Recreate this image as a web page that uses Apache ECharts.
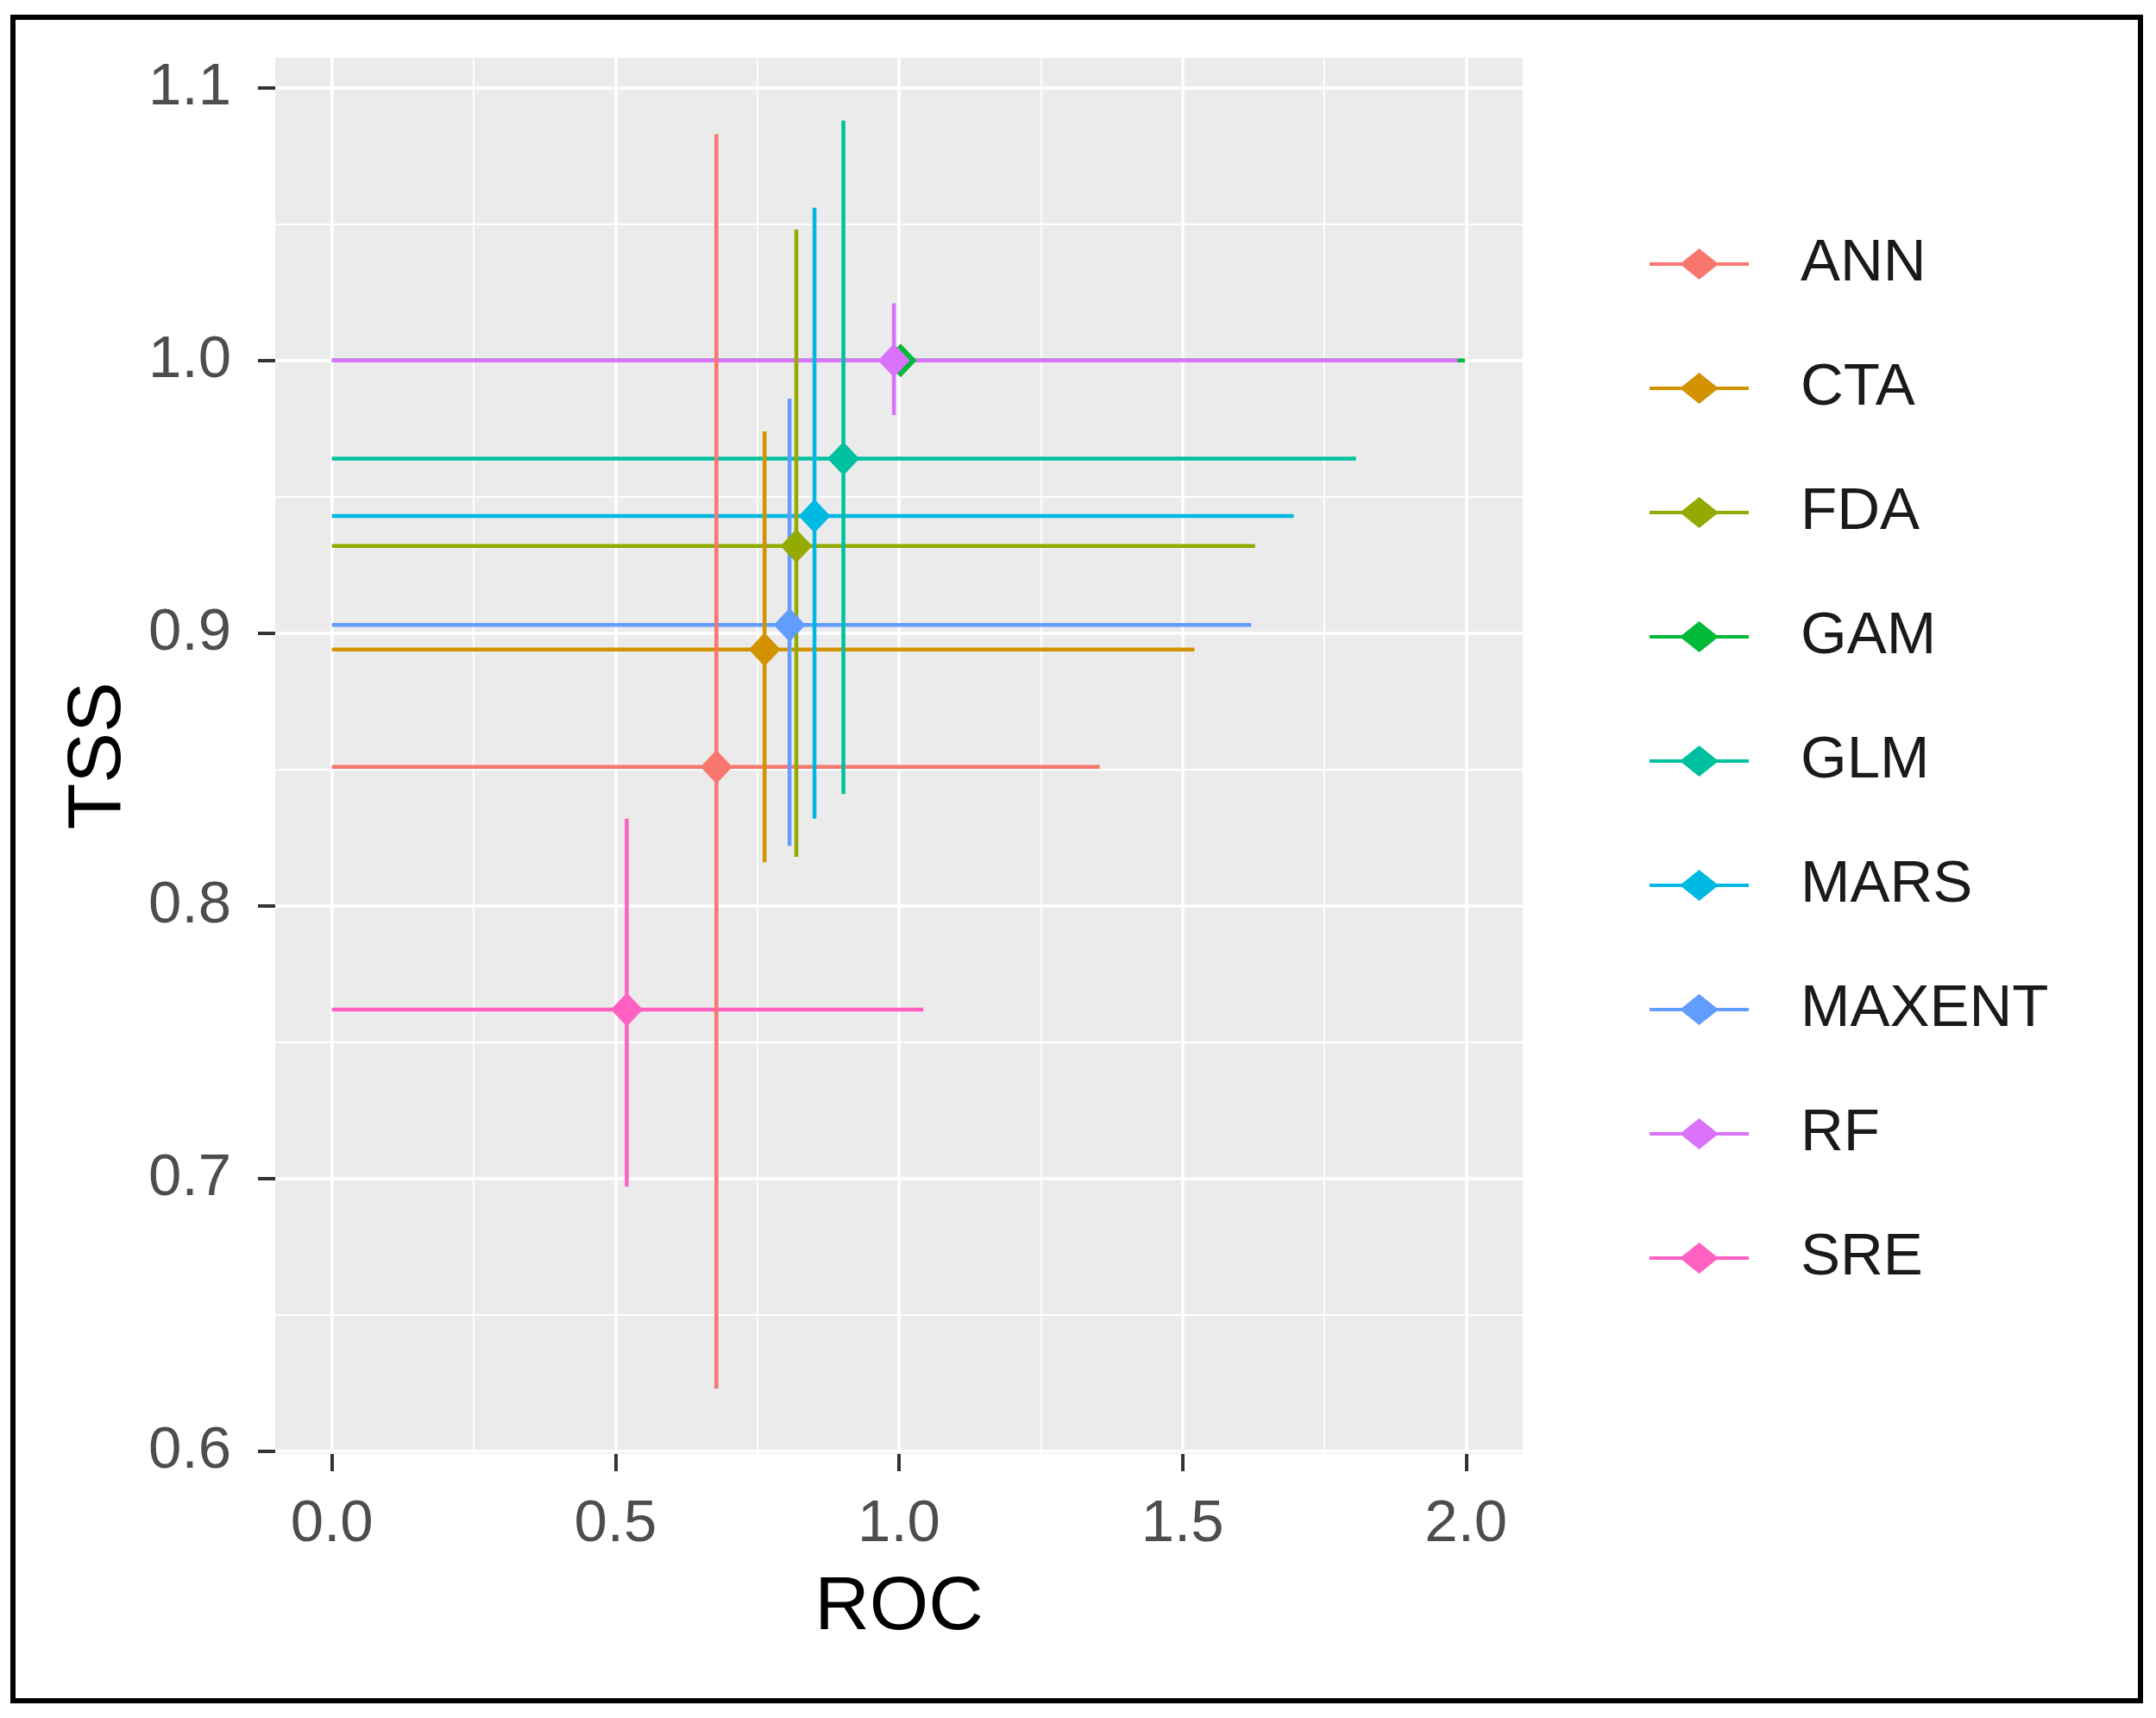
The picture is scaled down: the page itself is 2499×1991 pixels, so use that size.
<!DOCTYPE html>
<html><head><meta charset="utf-8">
<script src="https://cdn.jsdelivr.net/npm/echarts@6/dist/echarts.min.js"></script>
<style>html,body{margin:0;padding:0;background:#fff}#c{width:2499px;height:1991px}</style>
</head><body><div id="c"></div>
<script>
// ---- data ----
const models   = ['ANN','CTA','FDA','GAM','GLM','MARS','MAXENT','RF','SRE'];
const rocMean  = [0.678, 0.763, 0.819, 1.003, 0.902, 0.851, 0.807, 0.991, 0.520];
const rocLow   = [0, 0, 0, 0, 0, 0, 0, 0, 0];
const rocHigh  = [1.354, 1.521, 1.628, 1.998, 1.806, 1.696, 1.621, 1.985, 1.043];
const tssMean  = [0.851, 0.894, 0.932, 1.000, 0.964, 0.943, 0.903, 1.000, 0.762];
const tssLow   = [0.623, 0.816, 0.818, 1.000, 0.841, 0.832, 0.822, 0.980, 0.697];
const tssHigh  = [1.083, 0.974, 1.048, 1.000, 1.088, 1.056, 0.986, 1.021, 0.832];
const xTicks   = [0, 0.5, 1.0, 1.5, 2.0];
const xMinor   = [0.25, 0.75, 1.25, 1.75];
const yTicks   = [0.6, 0.7, 0.8, 0.9, 1.0, 1.1];
const yMinor   = [0.65, 0.75, 0.85, 0.95, 1.05];

// ---- styles ----
const palette = ['#F8766D','#D39200','#93AA00','#00BA38','#00C19F','#00B9E3','#619CFF','#DB72FB','#FF61C3'];
const FONT = 'Liberation Sans, Arial, sans-serif';
const LW = 4.5;

const chart = echarts.init(document.getElementById('c'), null, {renderer:'canvas'});

const series = [];
models.forEach((m, i) => {
  series.push({
    type:'custom', name:m, xAxisIndex:0, yAxisIndex:0, z:2, silent:true,
    itemStyle:{color:palette[i]},
    data:[[rocLow[i], rocHigh[i], tssMean[i]]],
    encode:{x:[0,1], y:2},
    renderItem:(params, api) => {
      const a = api.coord([api.value(0), api.value(2)]);
      const b = api.coord([api.value(1), api.value(2)]);
      return {type:'line', shape:{x1:a[0], y1:a[1], x2:b[0], y2:b[1]},
              style:{stroke:palette[i], lineWidth:LW}};
    }
  });
});
models.forEach((m, i) => {
  series.push({
    type:'custom', name:m, xAxisIndex:0, yAxisIndex:0, z:3, silent:true,
    itemStyle:{color:palette[i]},
    data:[[rocMean[i], tssLow[i], tssHigh[i]]],
    encode:{x:0, y:[1,2]},
    renderItem:(params, api) => {
      const a = api.coord([api.value(0), api.value(1)]);
      const b = api.coord([api.value(0), api.value(2)]);
      return {type:'line', shape:{x1:a[0], y1:a[1], x2:b[0], y2:b[1]},
              style:{stroke:palette[i], lineWidth:LW}};
    }
  });
});
models.forEach((m, i) => {
  series.push({
    type:'scatter', name:m, xAxisIndex:0, yAxisIndex:0, z:4, silent:true,
    symbol:'diamond', symbolSize:[37, 39],
    itemStyle:{color:palette[i], opacity:1},
    data:[[rocMean[i], tssMean[i]]]
  });
});

const legendIcon = 'path://M0,16L37.5,16L57.5,0L77.5,16L115,16L115,20L77.5,20L57.5,36L37.5,20L0,20Z';

const tickLabel = {fontSize:69, color:'#4D4D4D', fontFamily:FONT};

chart.setOption({
  animation:false,
  backgroundColor:'#ffffff',
  graphic:[{type:'rect', z:100, silent:true,
    shape:{x:15, y:20, width:2466, height:1951},
    style:{fill:null, stroke:'#000', lineWidth:6}}],
  grid:{left:319, top:67, width:1446, height:1618, show:true,
        backgroundColor:'#EBEBEB', borderWidth:0},
  legend:{
    orient:'vertical', left:1912, top:271, padding:0,
    itemWidth:115, itemHeight:36, itemGap:74,
    data:models.map(m => ({name:m, icon:legendIcon})),
    textStyle:{fontSize:69, lineHeight:70, color:'#1A1A1A', fontFamily:FONT, padding:[0,0,0,55]},
    selectedMode:false
  },
  xAxis:[
    {type:'value', min:-0.1, max:2.1,
     axisLine:{show:false, onZero:false},
     axisTick:{show:true, length:20, customValues:xTicks, lineStyle:{color:'#333333', width:4}},
     axisLabel:{customValues:xTicks, formatter:v => v.toFixed(1), margin:47, ...tickLabel},
     splitLine:{show:true, lineStyle:{color:'#FFFFFF', width:3.5}},
     name:'ROC', nameLocation:'middle', nameGap:135,
     nameTextStyle:{fontSize:88, color:'#000', fontFamily:FONT}},
    {type:'value', min:-0.1, max:2.1, gridIndex:0,
     axisLine:{show:false, onZero:false},
     axisTick:{show:false, customValues:xMinor},
     axisLabel:{show:false, customValues:xMinor},
     splitLine:{show:true, lineStyle:{color:'#FFFFFF', width:1.8}}}
  ],
  yAxis:[
    {type:'value', min:0.599, max:1.111,
     axisLine:{show:false, onZero:false},
     axisTick:{show:true, length:20, customValues:yTicks, lineStyle:{color:'#333333', width:4}},
     axisLabel:{customValues:yTicks, formatter:v => v.toFixed(1), margin:51, ...tickLabel},
     splitLine:{show:true, lineStyle:{color:'#FFFFFF', width:3.5}},
     name:'TSS', nameLocation:'middle', nameGap:160,
     nameTextStyle:{fontSize:88, color:'#000', fontFamily:FONT}},
    {type:'value', min:0.599, max:1.111, gridIndex:0,
     axisLine:{show:false, onZero:false},
     axisTick:{show:false, customValues:yMinor},
     axisLabel:{show:false, customValues:yMinor},
     splitLine:{show:true, lineStyle:{color:'#FFFFFF', width:1.8}}}
  ],
  series:series
});
</script>
</body></html>
